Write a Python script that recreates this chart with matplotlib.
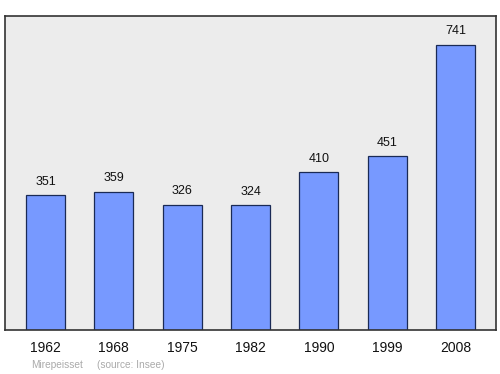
import matplotlib
matplotlib.use("Agg")
import matplotlib.pyplot as plt

years = ["1962", "1968", "1975", "1982", "1990", "1999", "2008"]
population = [351, 359, 326, 324, 410, 451, 741]
commune = "Mirepeisset"
source = "(source: Insee)"

plt.rcParams['font.family'] = ['Liberation Sans', 'DejaVu Sans']

fig = plt.figure(figsize=(5.0, 3.74), dpi=100)
ax = fig.add_axes([0.01, 0.1176, 0.982, 0.8396])
ax.set_facecolor('#ececec')

x = list(range(len(years)))
ax.bar(x, population, width=0.57, color='#7799ff', edgecolor='#1a2a55', linewidth=0.9, zorder=2)
for xi, v in zip(x, population):
    ax.annotate(str(v), (xi, v), xytext=(0, 7.5), textcoords='offset points',
                ha='center', va='baseline', fontsize=9, color='#111111')

ax.set_xlim(-0.593, 6.593)
ax.set_ylim(0, 816)
ax.set_xticks(x)
ax.set_xticklabels(years, fontsize=10, color='#111111')
ax.tick_params(axis='x', length=0, pad=8)
ax.set_yticks([])
for s in ax.spines.values():
    s.set_color('#333333')
    s.set_linewidth(1.2)

fig.text(0.063, 0.016, commune, fontsize=7.3, color='#aaaaaa', ha='left', va='baseline')
fig.text(0.194, 0.016, source, fontsize=7.3, color='#aaaaaa', ha='left', va='baseline')

fig.savefig('out.png', dpi=100)
